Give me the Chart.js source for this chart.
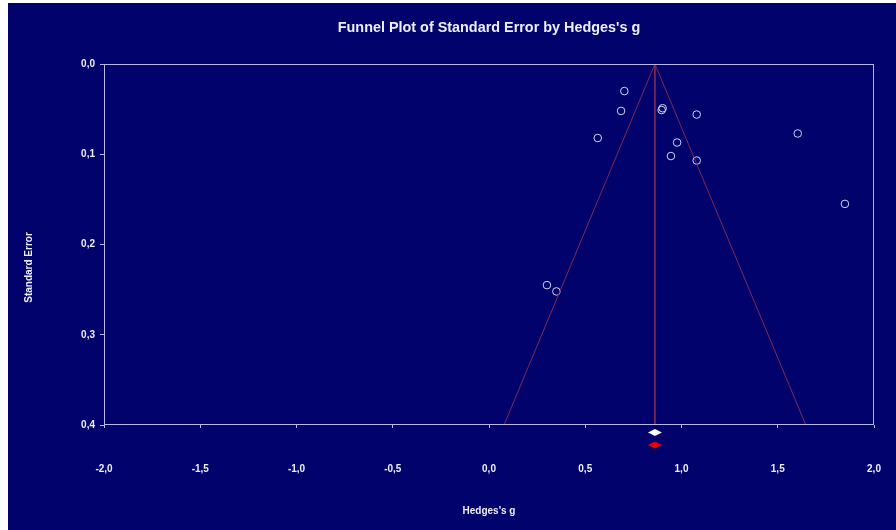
<!DOCTYPE html>
<html><head><meta charset="utf-8">
<script src="https://cdn.jsdelivr.net/npm/chart.js@4/dist/chart.umd.min.js"></script>
<style>
html,body{margin:0;padding:0;background:#ffffff;width:896px;height:530px;overflow:hidden}
#wrap{position:absolute;left:8px;top:3px;width:888px;height:527px;background:#02026c}
canvas{display:block}
</style></head><body>
<div id="wrap"><canvas id="c" width="888" height="527"></canvas></div>
<script>
// ---- data ----
const studyG  = [0.703, 0.686, 0.897, 0.902, 1.079, 0.565, 1.604, 0.977, 0.945, 1.079, 1.849, 0.301, 0.350];
const studySE = [0.030, 0.052, 0.051, 0.049, 0.056, 0.082, 0.077, 0.087, 0.102, 0.107, 0.155, 0.245, 0.252];
const combinedG = 0.862;          // pooled estimate (funnel apex)
const fixedCI  = [0.826, 0.898];  // white diamond
const randomCI = [0.826, 0.898];  // red diamond
const seMax = 0.4;
const xMin = -2.0, xMax = 2.0, xStep = 0.5;
const yMin = 0.0, yStep = 0.1;
const chartTitle = "Funnel Plot of Standard Error by Hedges's g";
const xTitle = "Hedges's g";
const yTitle = "Standard Error";

const frameColor = '#b8b8e8';
const textColor = '#eeeefa';
const funnelColor = '#7e2a52';
const FONT = '"Liberation Sans", Arial, sans-serif';

const points = studyG.map((g, i) => ({x: g, y: studySE[i]}));
const funnel = [
  {x: combinedG - 1.96 * seMax, y: seMax},
  {x: combinedG, y: 0},
  {x: combinedG + 1.96 * seMax, y: seMax}
];
const centre = [{x: combinedG, y: 0}, {x: combinedG, y: seMax}];
const fmt = v => (Math.round(v * 10) / 10).toFixed(1).replace('.', ',');

const deco = {
  id: 'deco',
  afterDatasetsDraw(chart) {
    const {ctx, chartArea: a, scales: {x}} = chart;
    ctx.save();
    // frame
    ctx.strokeStyle = frameColor;
    ctx.lineWidth = 1;
    ctx.strokeRect(Math.round(a.left) + 0.5, Math.round(a.top) + 0.5,
                   Math.round(a.right - a.left) - 1, Math.round(a.bottom - a.top) - 1);
    // diamonds
    const diamonds = [[fixedCI, '#ffffff', 7.5], [randomCI, '#ee0000', 20]];
    diamonds.forEach(([ci, col, off]) => {
      const cx = x.getPixelForValue(combinedG);
      const l = x.getPixelForValue(ci[0]);
      const r = x.getPixelForValue(ci[1]);
      const yc = a.bottom + off;
      ctx.beginPath();
      ctx.moveTo(l, yc); ctx.lineTo(cx, yc - 3.5);
      ctx.lineTo(r, yc); ctx.lineTo(cx, yc + 3.5);
      ctx.closePath();
      ctx.fillStyle = col; ctx.fill();
    });
    // texts
    ctx.fillStyle = textColor;
    ctx.textAlign = 'center';
    ctx.textBaseline = 'alphabetic';
    ctx.font = 'bold 14.4px ' + FONT;
    ctx.fillText(chartTitle, (a.left + a.right) / 2, 28.7);
    ctx.font = 'bold 10px ' + FONT;
    ctx.fillText(xTitle, (a.left + a.right) / 2, 511);
    ctx.translate(24.3, 264.5);
    ctx.rotate(-Math.PI / 2);
    ctx.fillText(yTitle, 0, 0);
    ctx.restore();
  }
};

new Chart(document.getElementById('c'), {
  type: 'scatter',
  data: {
    datasets: [
      {data: funnel, showLine: true, borderColor: funnelColor, borderWidth: 1, pointRadius: 0, fill: false},
      {data: centre, showLine: true, borderColor: funnelColor, borderWidth: 1, pointRadius: 0, fill: false},
      {data: points, pointStyle: 'circle', pointRadius: 3.8, borderColor: '#d4d4f4',
       backgroundColor: 'rgba(0,0,0,0)', borderWidth: 1, showLine: false}
    ]
  },
  options: {
    responsive: false,
    animation: false,
    devicePixelRatio: 1,
    layout: {padding: {top: 61, right: 22, left: 0, bottom: 0}},
    plugins: {legend: {display: false}, tooltip: {enabled: false}, title: {display: false}},
    scales: {
      x: {
        type: 'linear', min: xMin, max: xMax,
        afterFit: s => { s.height = 105; s.paddingLeft = 0; s.paddingRight = 0; },
        ticks: {stepSize: xStep, color: textColor, padding: 35, maxRotation: 0,
                font: {family: FONT, size: 10, weight: 'bold'}, callback: v => fmt(v)},
        grid: {drawOnChartArea: false, drawTicks: true, tickLength: 3, color: frameColor},
        border: {display: false}
      },
      y: {
        type: 'linear', min: yMin, max: seMax, reverse: true,
        afterFit: s => { s.width = 96; s.paddingTop = 0; s.paddingBottom = 0; },
        ticks: {stepSize: yStep, color: textColor, padding: 5,
                font: {family: FONT, size: 10, weight: 'bold'}, callback: v => fmt(v)},
        grid: {drawOnChartArea: false, drawTicks: true, tickLength: 4, color: frameColor},
        border: {display: false}
      }
    }
  },
  plugins: [deco]
});
</script>
</body></html>
